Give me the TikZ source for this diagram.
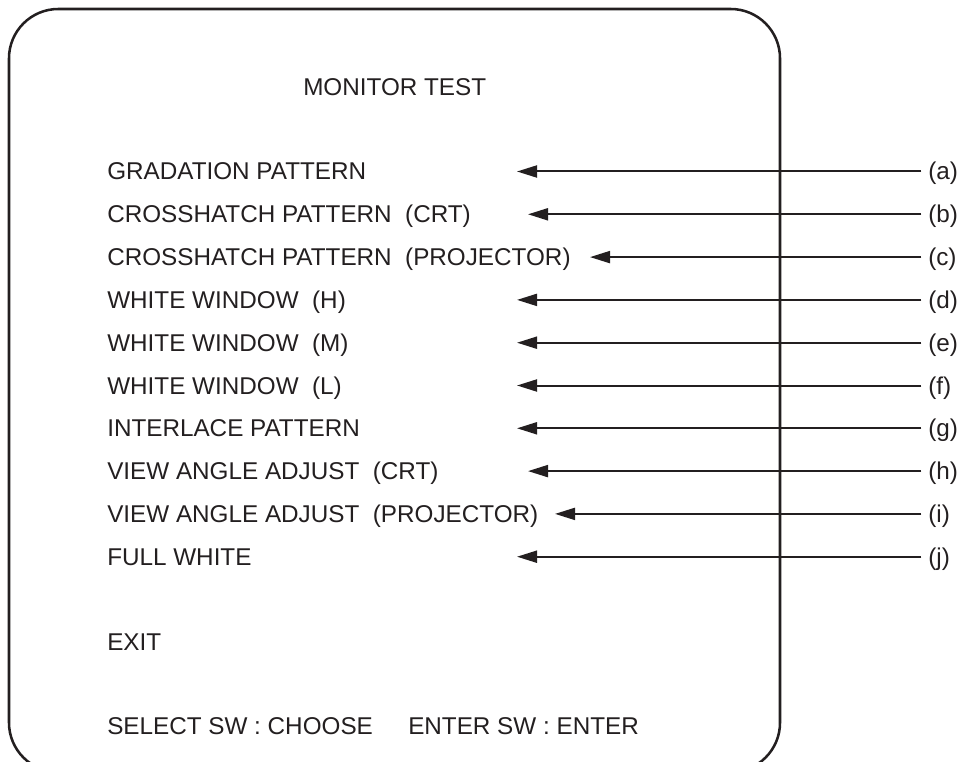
\documentclass[tikz,border=0pt]{standalone}
\usepackage{fontspec}
\setmainfont{Liberation Sans}
\usetikzlibrary{arrows.meta}
\definecolor{ink}{HTML}{231F20}
\begin{document}
\begin{tikzpicture}[x=0.75pt,y=-0.75pt,
  item/.style={anchor=base west, inner sep=0pt, text=ink, font=\fontsize{18.2}{20}\selectfont},
  lbl/.style={anchor=base west, inner sep=0pt, text=ink, font=\fontsize{18.2}{20}\selectfont},
  ptr/.style={draw=ink, line width=1.5pt, -{Triangle[length=15pt,width=9pt]}}]
\useasboundingbox (0,0) rectangle (962,762);
\begin{scope}
  \clip (0,0) rectangle (962,762);
  \draw[ink, line width=1.9pt, rounded corners=37pt] (9,9) rectangle (780,772);
\end{scope}
\node[item] (title) at (303,96) {MONITOR TEST};
\node[item] (i1) at (107,180) {GRADATION PATTERN};
\node[item] (i2) at (107,222.8) {CROSSHATCH PATTERN\ \ (CRT)};
\node[item] (i3) at (107,265.6) {CROSSHATCH PATTERN\ \ (PROJECTOR)};
\node[item] (i4) at (107,308.4) {WHITE WINDOW\ \ (H)};
\node[item] (i5) at (107,351.2) {WHITE WINDOW\ \ (M)};
\node[item] (i6) at (107,394) {WHITE WINDOW\ \ (L)};
\node[item] (i7) at (107,436.8) {INTERLACE PATTERN};
\node[item] (i8) at (107,479.6) {VIEW ANGLE ADJUST\ \ (CRT)};
\node[item] (i9) at (107,522.4) {VIEW ANGLE ADJUST\ \ (PROJECTOR)};
\node[item] (i10) at (107,565.2) {FULL WHITE};
\node[item] (exit) at (107,650) {EXIT};
\node[item] (sel) at (107,734) {SELECT SW : CHOOSE};
\node[item] (ent) at (408,734) {ENTER SW : ENTER};
% labels
\node[lbl] (la) at (928,180) {(a)};
\node[lbl] (lb) at (928,222.8) {(b)};
\node[lbl] (lc) at (928,265.6) {(c)};
\node[lbl] (ld) at (928,308.4) {(d)};
\node[lbl] (le) at (928,351.2) {(e)};
\node[lbl] (lf) at (928,394) {(f)};
\node[lbl] (lg) at (928,436.8) {(g)};
\node[lbl] (lh) at (928,479.6) {(h)};
\node[lbl] (li) at (928,522.4) {(i)};
\node[lbl] (lj) at (928,565.2) {(j)};
% arrow tips
\coordinate (ta) at (517,171.5);
\coordinate (tb) at (528,214.3);
\coordinate (tc) at (590,257.1);
\coordinate (td) at (517,299.9);
\coordinate (te) at (517,342.7);
\coordinate (tf) at (517,385.5);
\coordinate (tg) at (517,428.3);
\coordinate (th) at (528,471.1);
\coordinate (ti) at (555,513.9);
\coordinate (tj) at (517,556.7);
\foreach \l/\t in {la/ta,lb/tb,lc/tc,ld/td,le/te,lf/tf,lg/tg,lh/th,li/ti,lj/tj}
  \draw[ptr] ([xshift=-5pt]\t -| \l.west) -- (\t);
\end{tikzpicture}
\end{document}
